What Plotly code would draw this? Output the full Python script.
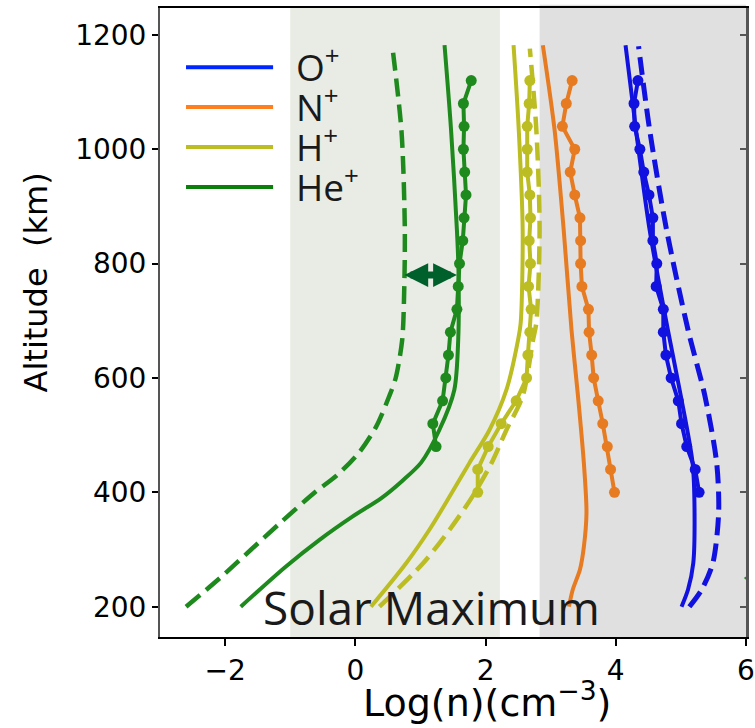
import plotly.graph_objects as go

# ---------------- data ----------------
ions = ["O", "N", "H", "He"]
legend_labels = ["O<sup>+</sup>", "N<sup>+</sup>", "H<sup>+</sup>", "He<sup>+</sup>"]
line_colors = {"O": "#1212e0", "N": "#e67b22", "H": "#bcbd22", "He": "#1e8a1e"}
legend_colors = ["#0026ff", "#ff7f1e", "#bcbd22", "#0a800a"]

# model (solid)
he_solid_alt = [200, 270, 317, 358, 390, 420, 452, 509, 579, 667, 784, 859, 1034, 1182]
he_solid_val = [-1.76, -1.07, -0.55, -0.04, 0.40, 0.72, 1.01, 1.29, 1.52, 1.58, 1.585, 1.56, 1.47, 1.37]
h_solid_alt = [200, 276, 335, 393, 451, 509, 579, 667, 697, 859, 1034, 1182]
h_solid_val = [0.24, 0.78, 1.14, 1.45, 1.75, 2.06, 2.32, 2.50, 2.54, 2.57, 2.51, 2.43]
n_solid_alt = [200, 230, 265, 305, 364, 451, 568, 684, 859, 1034, 1182]
n_solid_val = [3.28, 3.34, 3.45, 3.51, 3.55, 3.51, 3.42, 3.32, 3.20, 3.06, 2.88]
o_solid_alt = [200, 230, 276, 364, 451, 568, 684, 859, 1034, 1182]
o_solid_val = [5.01, 5.11, 5.19, 5.21, 5.18, 5.00, 4.80, 4.52, 4.31, 4.15]

# model (dashed)
he_dash_alt = [200, 250, 300, 350, 400, 430, 470, 515, 568, 600, 667, 750, 860, 1030, 1178]
he_dash_val = [-2.60, -2.08, -1.60, -1.12, -0.62, -0.28, 0.06, 0.32, 0.52, 0.62, 0.72, 0.75, 0.76, 0.71, 0.57]
h_dash_alt = [200, 276, 335, 393, 451, 509, 568, 667, 697, 859, 1034, 1176]
h_dash_val = [0.37, 1.04, 1.45, 1.80, 2.09, 2.32, 2.57, 2.73, 2.78, 2.83, 2.78, 2.68]
o_dash_alt = [200, 230, 276, 364, 451, 568, 684, 859, 1034, 1180]
o_dash_val = [5.13, 5.32, 5.49, 5.58, 5.55, 5.37, 5.11, 4.78, 4.52, 4.35]

# observations (lines + dots)
obs_alt = [400, 440, 480, 520, 560, 600, 640, 680, 720, 760, 800, 840, 880, 920, 960, 1000, 1040, 1080, 1120]
o_obs = [5.28, 5.22, 5.09, 5.01, 4.96, 4.85, 4.77, 4.73, 4.73, 4.62, 4.63, 4.57, 4.57, 4.51, 4.43, 4.37, 4.29, 4.28, 4.34]
n_obs = [3.98, 3.92, 3.87, 3.80, 3.73, 3.66, 3.63, 3.59, 3.58, 3.48, 3.46, 3.46, 3.45, 3.37, 3.30, 3.37, 3.18, 3.24, 3.33]
h_obs = [1.88, 1.88, 2.04, 2.24, 2.47, 2.63, 2.65, 2.68, 2.70, 2.66, 2.69, 2.67, 2.69, 2.68, 2.64, 2.64, 2.64, 2.67, 2.68]
he_obs_alt = [480, 520, 560, 600, 640, 680, 720, 760, 800, 840, 880, 920, 960, 1000, 1040, 1080, 1120]
he_obs = [1.24, 1.19, 1.34, 1.39, 1.43, 1.46, 1.56, 1.58, 1.60, 1.65, 1.67, 1.70, 1.68, 1.66, 1.67, 1.66, 1.78]

# shaded bands (log n)
green_band = [-1.0, 2.22]
gray_band = [2.83, 6.1]
# double arrow (He+ difference at 780 km)
arrow_alt = 780
arrow_from, arrow_to = 0.73, 1.56
edge_point = (6.02, 250)

x_ticks = [-2, 0, 2, 4, 6]
y_ticks = [200, 400, 600, 800, 1000, 1200]
x_range = [-3, 6]
y_range = [147, 1247]

# ---------------- figure ----------------
fig = go.Figure()

def add_line(x, y, color, dash="solid", width=4):
    fig.add_trace(go.Scatter(x=x, y=y, mode="lines", line=dict(color=color, width=width, dash=dash, shape="spline", smoothing=0.8),
                             showlegend=False, hoverinfo="skip"))

def add_obs(x, y, color):
    fig.add_trace(go.Scatter(x=x, y=y, mode="lines+markers", line=dict(color=color, width=4),
                             marker=dict(color=color, size=11), showlegend=False, hoverinfo="skip"))

dash_pat = "18px,8px"
add_line(he_dash_val, he_dash_alt, line_colors["He"], dash_pat, 4.5)
add_line(he_solid_val, he_solid_alt, line_colors["He"])
add_line(h_solid_val, h_solid_alt, line_colors["H"])
add_line(h_dash_val, h_dash_alt, line_colors["H"], dash_pat, 4.5)
add_line(n_solid_val, n_solid_alt, line_colors["N"])
add_line(o_solid_val, o_solid_alt, line_colors["O"])
add_line(o_dash_val, o_dash_alt, line_colors["O"], dash_pat, 5)

add_obs(he_obs, he_obs_alt, line_colors["He"])
add_obs(h_obs, obs_alt, line_colors["H"])
add_obs(n_obs, obs_alt, line_colors["N"])
add_obs(o_obs, obs_alt, line_colors["O"])

fig.add_trace(go.Scatter(x=[edge_point[0]], y=[edge_point[1]], mode="markers", yaxis="y2",
                         marker=dict(color="#1e8a1e", size=7, symbol="triangle-left"),
                         showlegend=False, hoverinfo="skip"))

# shaded regions
fig.add_shape(type="rect", xref="x", yref="paper", x0=green_band[0], x1=green_band[1], y0=0, y1=1,
              fillcolor="#e9ece4", line_width=0, layer="below")
fig.add_shape(type="rect", xref="x", yref="paper", x0=gray_band[0], x1=gray_band[1], y0=0, y1=1.005,
              fillcolor="#e0e0e0", line_width=0, layer="below")

# manual legend
leg_y = [0.906, 0.8426, 0.779, 0.7154]
for lab, col, yy in zip(legend_labels, legend_colors, leg_y):
    fig.add_shape(type="line", xref="paper", yref="paper", x0=0.0444, x1=0.193, y0=yy, y1=yy,
                  line=dict(color=col, width=4))
    fig.add_annotation(xref="paper", yref="paper", x=0.229, y=yy + 0.004, text=lab, showarrow=False,
                       xanchor="left", yanchor="middle", height=39, valign="middle",
                       font=dict(family="Open Sans", size=37, color="#1a1a1a"))

# arrow
fig.add_annotation(x=arrow_to, y=arrow_alt, ax=arrow_from, ay=arrow_alt, xref="x", yref="y",
                   axref="x", ayref="y", text="", showarrow=True, arrowside="end+start",
                   arrowhead=2, arrowsize=0.68, arrowwidth=7, arrowcolor="#00602c", standoff=0, startstandoff=0)

# Solar Maximum label
fig.add_annotation(x=1.17, y=200, xref="x", yref="y", text="Solar Maximum", showarrow=False,
                   xanchor="center", yanchor="middle",
                   font=dict(family="Open Sans", size=46, color="#1a1a1a"))

# axis titles
fig.add_annotation(xref="paper", yref="paper", x=0.558, y=-0.100, text="Log(n)(cm<sup>\u22123</sup>)",
                   showarrow=False, xanchor="center", yanchor="middle",
                   font=dict(family="DejaVu Sans", size=38, color="black"))
fig.add_annotation(xref="paper", yref="paper", x=-0.21, y=0.5636, text="Altitude \u00a0(km)", textangle=-90,
                   showarrow=False, xanchor="center", yanchor="middle",
                   font=dict(family="DejaVu Sans", size=32, color="black"))

tickfont = dict(family="DejaVu Sans", size=28, color="black")
fig.update_layout(
    width=755, height=728,
    margin=dict(l=160, r=9, t=8, b=91, autoexpand=False),
    paper_bgcolor="white", plot_bgcolor="white",
    showlegend=False,
    xaxis=dict(range=x_range, tickvals=x_ticks, ticktext=["\u22122", "0", "2", "4", "6"], automargin=False,
               showgrid=False, zeroline=False, showline=True, linecolor="black", linewidth=2,
               mirror=True, ticks="outside", ticklen=7, tickwidth=1.5, tickcolor="black", tickfont=tickfont),
    yaxis=dict(range=y_range, tickvals=y_ticks, showgrid=False, zeroline=False, showline=True, automargin=False,
               linecolor="#555555", linewidth=2, ticks="outside", ticklen=6, tickwidth=1.5,
               tickcolor="black", tickfont=tickfont),
    yaxis2=dict(range=y_range, overlaying="y", side="right", tickvals=y_ticks, showticklabels=False, automargin=False,
                showgrid=False, zeroline=False, showline=True, linecolor="#555555", linewidth=3,
                ticks="inside", ticklen=6, tickwidth=1.5, tickcolor="#555555"),
)

fig.write_html("out.html")
